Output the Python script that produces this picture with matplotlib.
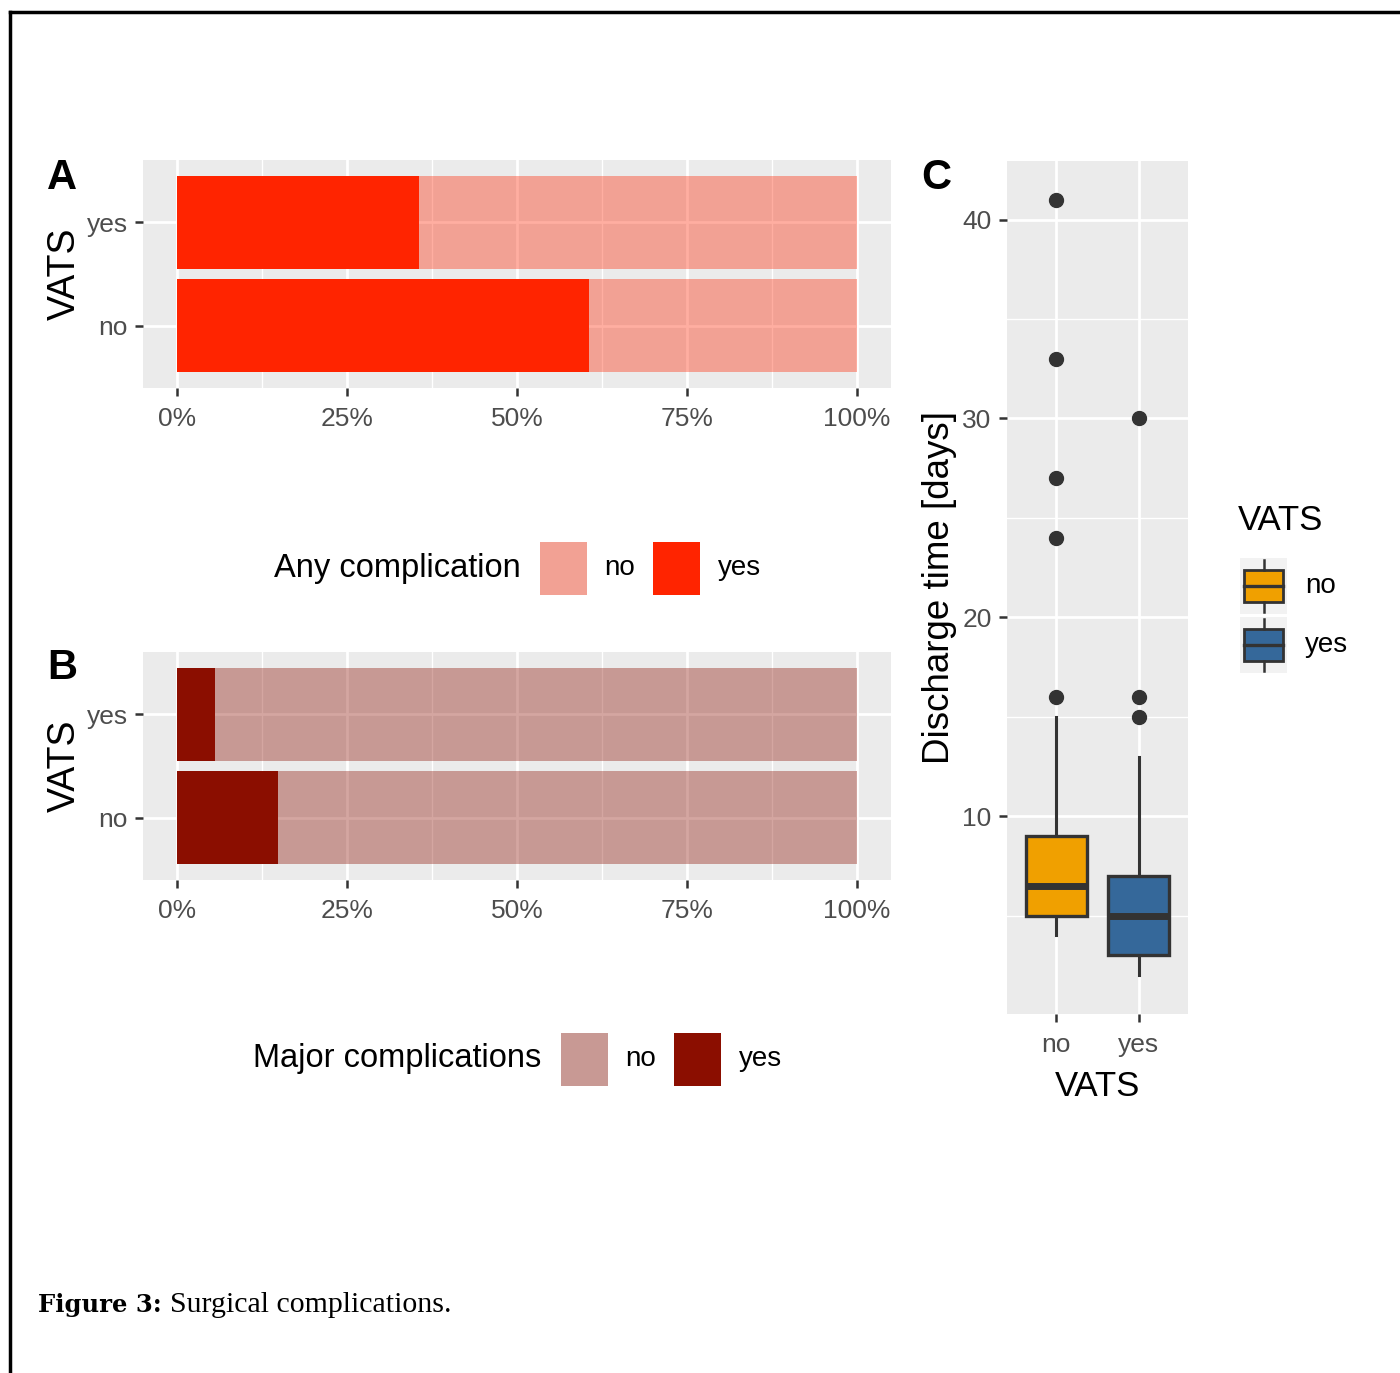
import matplotlib
matplotlib.use("Agg")
import matplotlib.pyplot as plt
from matplotlib.patches import Rectangle
from matplotlib.lines import Line2D

# ---------------- data ----------------
vats_levels = ["no", "yes"]
any_complication_yes = [0.606, 0.356]      # share with any complication
major_complication_yes = [0.149, 0.056]    # share with major complications
pct_ticks = [0, 0.25, 0.5, 0.75, 1.0]
pct_labels = ["0%", "25%", "50%", "75%", "100%"]

# discharge time box statistics (days)
box_whislo = [4, 2]
box_q1 = [5, 3]
box_med = [6.5, 5]
box_q3 = [9, 7]
box_whishi = [15, 13]
box_fliers = [[16, 24, 27, 33, 41], [15, 16, 30]]
days_ticks = [10, 20, 30, 40]

# ---------------- style ----------------
SANS = ["Liberation Sans", "DejaVu Sans"]
plt.rcParams["font.family"] = SANS
W, H = 1400, 1373
PANEL = "#EBEBEB"
TICKC = "#333333"
LABC = "#4D4D4D"
RED = "#FF2400"
DARKRED = "#8B0E00"
ORANGE = "#F0A000"
BLUE = "#35689A"
ALPHA = 0.37

fig = plt.figure(figsize=(W / 100, H / 100), dpi=100)


def rect(l, t, r, b):
    return [l / W, 1 - b / H, (r - l) / W, (b - t) / H]


def fx(x):
    return x / W


def fy(y):
    return 1 - y / H


def style_axes(ax):
    ax.set_facecolor(PANEL)
    for s in ax.spines.values():
        s.set_visible(False)
    ax.tick_params(axis="both", which="major", length=6, width=1.8, color=TICKC,
                   labelcolor=LABC, labelsize=19, pad=5)
    ax.tick_params(axis="x", which="major", pad=8)
    ax.tick_params(axis="both", which="minor", length=0)


def bar_panel(ax, yes_vals, color):
    style_axes(ax)
    ax.set_xlim(-0.05, 1.05)
    ax.set_ylim(0.4, 2.6)
    ax.set_xticks(pct_ticks)
    ax.set_xticklabels(pct_labels)
    ax.set_xticks([0.125, 0.375, 0.625, 0.875], minor=True)
    ax.set_yticks([1, 2])
    ax.set_yticklabels(vats_levels)
    ax.grid(True, which="major", color="white", lw=2.0, zorder=0)
    ax.grid(True, which="minor", axis="x", color="white", lw=1.0, zorder=0)
    ax.set_axisbelow(True)
    pos = [1, 2]
    ax.barh(pos, yes_vals, height=0.9, color=color, zorder=2, lw=0)
    ax.barh(pos, [1 - v for v in yes_vals], left=yes_vals, height=0.9,
            color=color, alpha=ALPHA, zorder=2, lw=0)
    ax.set_ylabel("VATS", fontsize=27, color="black", labelpad=3)


def blend(c, a, bg=(0.922, 0.922, 0.922)):
    from matplotlib.colors import to_rgb
    r = to_rgb(c)
    return tuple(a * r[i] + (1 - a) * bg[i] for i in range(3))


def hlegend(title, tx_right, yc, key_lefts, lab_lefts, color):
    fig.text(fx(tx_right), fy(yc), title, ha="right", va="center", fontsize=23.5)
    kw, kh = 47, 53
    cols = [blend(color, ALPHA), color]
    for kl, ll, c, lab in zip(key_lefts, lab_lefts, cols, vats_levels):
        fig.add_artist(Rectangle((fx(kl), fy(yc + kh / 2)), kw / W, kh / H,
                                 transform=fig.transFigure, color=c, lw=0))
        fig.text(fx(ll), fy(yc), lab, ha="left", va="center", fontsize=20)


# Panel A
axA = fig.add_axes(rect(143, 160, 891, 388))
bar_panel(axA, any_complication_yes, RED)
hlegend("Any complication", 521, 568, [540, 653], [604, 718], RED)

# Panel B
axB = fig.add_axes(rect(143, 652, 891, 880))
bar_panel(axB, major_complication_yes, DARKRED)
hlegend("Major complications", 541, 1059, [561, 674], [625, 739], DARKRED)

# Panel C
axC = fig.add_axes(rect(1007, 161, 1188, 1014))
style_axes(axC)
axC.set_xlim(0.4, 2.6)
axC.set_ylim(0.05, 42.95)
axC.set_yticks(days_ticks)
axC.set_yticks([5, 15, 25, 35], minor=True)
axC.set_xticks([1, 2])
axC.set_xticklabels(vats_levels)
axC.grid(True, which="major", color="white", lw=2.0, zorder=0)
axC.grid(True, which="minor", axis="y", color="white", lw=1.0, zorder=0)
axC.set_axisbelow(True)
stats = []
for i in range(2):
    stats.append(dict(med=box_med[i], q1=box_q1[i], q3=box_q3[i],
                      whislo=box_whislo[i], whishi=box_whishi[i],
                      fliers=box_fliers[i], label=vats_levels[i]))
bp = axC.bxp(stats, positions=[1, 2], widths=0.75, patch_artist=True,
             showcaps=False, manage_ticks=False,
             boxprops=dict(edgecolor=TICKC, lw=2.4),
             whiskerprops=dict(color=TICKC, lw=2.2),
             medianprops=dict(color=TICKC, lw=5.0, solid_capstyle="butt"),
             flierprops=dict(marker="o", markerfacecolor=TICKC,
                             markeredgecolor=TICKC, markersize=10))
for patch, c in zip(bp["boxes"], [ORANGE, BLUE]):
    patch.set_facecolor(c)
    patch.set_zorder(3)
for m in bp["medians"]:
    m.set_zorder(4)
axC.set_xlabel("VATS", fontsize=25, color="black", labelpad=9)
axC.set_ylabel("Discharge time [days]", fontsize=26.5, color="black", labelpad=4)

# Legend C
fig.text(fx(1238), fy(521), "VATS", ha="left", va="center", fontsize=25)
for (top, c, lab) in [(558, ORANGE, "no"), (617, BLUE, "yes")]:
    fig.add_artist(Rectangle((fx(1240), fy(top + 56)), 47 / W, 56 / H,
                             transform=fig.transFigure, color="#F2F2F2", lw=0))
    bt, bb = top + 12, top + 44
    fig.add_artist(Line2D([fx(1263.5), fx(1263.5)], [fy(top + 2), fy(bt)],
                          transform=fig.transFigure, color=TICKC, lw=1.8))
    fig.add_artist(Line2D([fx(1263.5), fx(1263.5)], [fy(bb), fy(top + 54)],
                          transform=fig.transFigure, color=TICKC, lw=1.8))
    fig.add_artist(Rectangle((fx(1244), fy(bb)), 39 / W, (bb - bt) / H,
                             transform=fig.transFigure, facecolor=c,
                             edgecolor=TICKC, lw=2.0))
    fig.add_artist(Line2D([fx(1244), fx(1283)], [fy(top + 28), fy(top + 28)],
                          transform=fig.transFigure, color=TICKC, lw=2.4))
    fig.text(fx(1305), fy(top + 28), lab, ha="left", va="center", fontsize=20)

# Panel labels
for txt, x, y in [("A", 47, 178), ("B", 47, 668), ("C", 921, 178)]:
    fig.text(fx(x), fy(y), txt, ha="left", va="center", fontsize=30,
             fontweight="bold")

# Caption
fig.text(fx(38), fy(1305), "Figure 3:", ha="left", va="center", fontsize=17.5,
         family=["DejaVu Serif"], fontweight="bold")
fig.text(fx(170), fy(1305), "Surgical complications.", ha="left", va="center",
         fontsize=21.5, family=["Liberation Serif", "DejaVu Serif"])

# Frame lines
fig.add_artist(Line2D([fx(10), 1.0], [fy(12), fy(12)], transform=fig.transFigure,
                      color="black", lw=2.5))
fig.add_artist(Line2D([fx(10), fx(10)], [fy(12), 0.0], transform=fig.transFigure,
                      color="black", lw=2.5))

fig.savefig("out.png", dpi=100, facecolor="white")
